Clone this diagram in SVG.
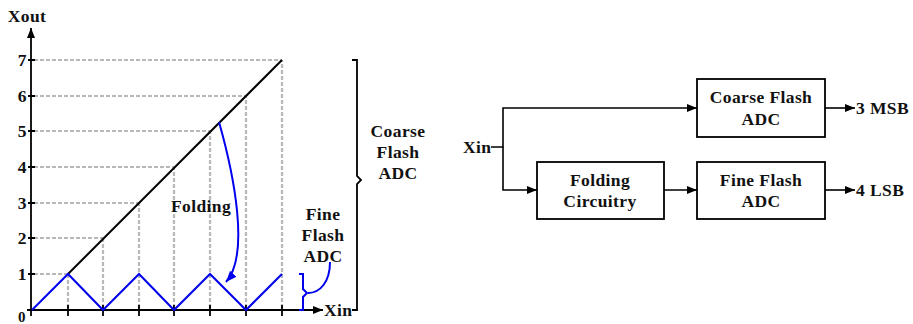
<svg xmlns="http://www.w3.org/2000/svg" width="913" height="324" viewBox="0 0 913 324">
<style>
text{font-family:"Liberation Serif","Times New Roman",serif;font-weight:bold;font-size:17.5px;fill:#111;letter-spacing:0.4px}
.c{text-anchor:middle}
.e{text-anchor:end}
.grid{stroke:#b8b8b8;stroke-width:2.2;stroke-dasharray:4 2;fill:none}
.ax{stroke:#000;stroke-width:1.8;fill:none}
.blue{stroke:#0000ee;stroke-width:2;fill:none}
.box{fill:#fff;stroke:#000;stroke-width:1.8}
.ln{stroke:#000;stroke-width:1.6;fill:none}
</style>
<defs>
<marker id="ah" viewBox="0 0 10 8" refX="10" refY="4" markerWidth="10" markerHeight="8" markerUnits="userSpaceOnUse" orient="auto"><path d="M0,0 L10,4 L0,8 z" fill="#000"/></marker>
<marker id="bh" viewBox="0 0 10 8" refX="10" refY="4" markerWidth="11" markerHeight="9" markerUnits="userSpaceOnUse" orient="auto"><path d="M0,0 L10,4 L0,8 z" fill="#0000ee"/></marker>
</defs>

<g id="plot">
<g id="grid">
<path class="grid" d="M34,274H68 M34,238H103 M34,203H139 M34,167H174 M34,131H210 M34,96H246 M34,60H282"/>
<path class="grid" d="M68,308V274 M103,308V238 M139,308V203 M174,308V167 M210,308V131 M246,308V96 M282,308V60"/>
</g>
<g id="axes">
<path class="ax" d="M31,316V28" marker-end="url(#ah)"/>
<path class="ax" d="M27,310H323" marker-end="url(#ah)"/>
<path class="ax" d="M68,305V316 M103,305V316 M139,305V316 M174,305V316 M210,305V316 M246,305V316 M282,305V316"/>
<path class="ax" d="M28,274H35 M28,238H35 M28,203H35 M28,167H35 M28,131H35 M28,96H35 M28,60H35"/>
<text x="27" y="22" class="c">Xout</text>
<text x="27" y="66" class="e">7</text>
<text x="27" y="102" class="e">6</text>
<text x="27" y="137" class="e">5</text>
<text x="27" y="173" class="e">4</text>
<text x="27" y="209" class="e">3</text>
<text x="27" y="244" class="e">2</text>
<text x="27" y="280" class="e">1</text>
<text x="22" y="322" class="c" style="font-size:15px">0</text>
<text x="324" y="316">Xin</text>
</g>
<path id="ramp" d="M68,274L282,60" stroke="#000" stroke-width="2" fill="none"/>
<path id="folded" class="blue" d="M32,310L68,274L103,310L139,274L174,310L210,274L246,310L282,274"/>
<g id="folding-label">
<path class="blue" d="M219,122C234,175 250,255 226,282" marker-end="url(#bh)"/>
<text x="201" y="212" class="c">Folding</text>
</g>
<g id="coarse-brace">
<path class="ax" d="M352,60H357V176L361,180L357,184V310H352"/>
<text x="398" y="137" class="c">Coarse</text>
<text x="398" y="158" class="c">Flash</text>
<text x="398" y="179" class="c">ADC</text>
</g>
<g id="fine-brace">
<path class="blue" d="M299,274H303V289L307,293L303,297V310H299"/>
<path class="blue" d="M308,293C320,293 330,282 330,262"/>
<text x="323" y="220" class="c">Fine</text>
<text x="323" y="241" class="c">Flash</text>
<text x="323" y="262" class="c">ADC</text>
</g>
</g>

<g id="coarse-adc">
<rect class="box" x="697" y="79" width="128" height="58"/>
<text x="761" y="103" class="c">Coarse Flash</text>
<text x="761" y="125" class="c">ADC</text>
</g>
<g id="folding-circuitry">
<rect class="box" x="537" y="162" width="127" height="57"/>
<text x="600" y="186" class="c">Folding</text>
<text x="600" y="207" class="c">Circuitry</text>
</g>
<g id="fine-adc">
<rect class="box" x="697" y="162" width="128" height="57"/>
<text x="761" y="186" class="c">Fine Flash</text>
<text x="761" y="207" class="c">ADC</text>
</g>
<g id="labels">
<text x="463" y="153">Xin</text>
<text x="856" y="114">3 MSB</text>
<text x="856" y="196">4 LSB</text>
</g>
<g id="connectors">
<path class="ln" d="M491,147H503V108H697" marker-end="url(#ah)"/>
<path class="ln" d="M503,147V190H537" marker-end="url(#ah)"/>
<path class="ln" d="M664,190H697" marker-end="url(#ah)"/>
<path class="ln" d="M825,108H855" marker-end="url(#ah)"/>
<path class="ln" d="M825,190H855" marker-end="url(#ah)"/>
</g>
</svg>
